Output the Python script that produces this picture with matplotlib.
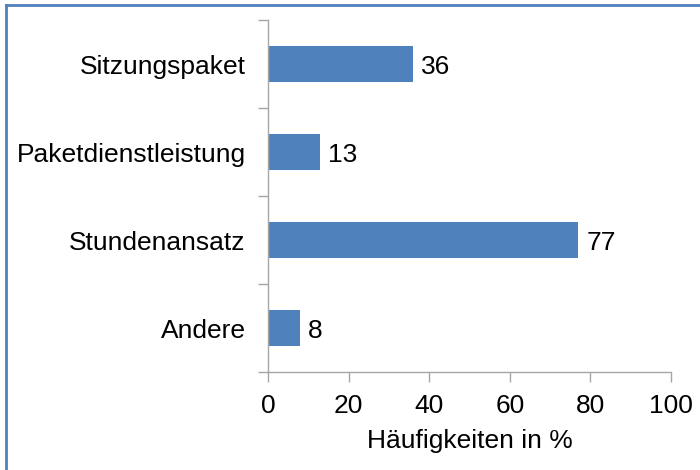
import matplotlib
matplotlib.use("Agg")
import matplotlib.pyplot as plt
from matplotlib.lines import Line2D

categories = ["Sitzungspaket", "Paketdienstleistung", "Stundenansatz", "Andere"]
values = [36, 13, 77, 8]
xticks = [0, 20, 40, 60, 80, 100]
xlabel = "Häufigkeiten in %"

plt.rcParams['font.family'] = ['Liberation Sans', 'DejaVu Sans']
FS = 19

fig = plt.figure(figsize=(7, 4.7), dpi=100)
ax = fig.add_axes([268/700, 1 - 372/470, (671-268)/700, (372-20)/470])

ypos = list(range(len(categories)))[::-1]
bars = ax.barh(ypos, values, height=0.4, color="#4F81BD")
ax.set_xlim(0, 100)
ax.set_ylim(-0.5, len(categories) - 0.5)
ax.set_xticks(xticks)
ax.set_xticklabels([str(t) for t in xticks], fontsize=FS)
ax.set_yticks(ypos)
ax.set_yticklabels(categories, fontsize=FS)
ax.set_xlabel(xlabel, fontsize=FS, labelpad=8)

# category separator ticks on y axis
ax.set_yticks([i - 0.5 for i in range(len(categories) + 1)], minor=True)
ax.tick_params(axis='y', which='major', length=0, pad=16)
ax.tick_params(axis='y', which='minor', length=7, color="#A6A6A6", width=1)
ax.tick_params(axis='x', length=7, color="#A6A6A6", width=1, pad=9)

for s in ["top", "right"]:
    ax.spines[s].set_visible(False)
for s in ["left", "bottom"]:
    ax.spines[s].set_color("#A6A6A6")
    ax.spines[s].set_linewidth(1)

for b, v in zip(bars, values):
    ax.text(v + 2, b.get_y() + b.get_height() / 2 - 0.03, str(v), va="center", ha="left", fontsize=FS)

# frame lines (top and left)
fig.add_artist(Line2D([6/700, 1], [1 - 5/470, 1 - 5/470], color="#4F81BD", lw=2, transform=fig.transFigure))
fig.add_artist(Line2D([6/700, 6/700], [0, 1 - 5/470], color="#4F81BD", lw=2, transform=fig.transFigure))

fig.savefig("out.png", dpi=100)
